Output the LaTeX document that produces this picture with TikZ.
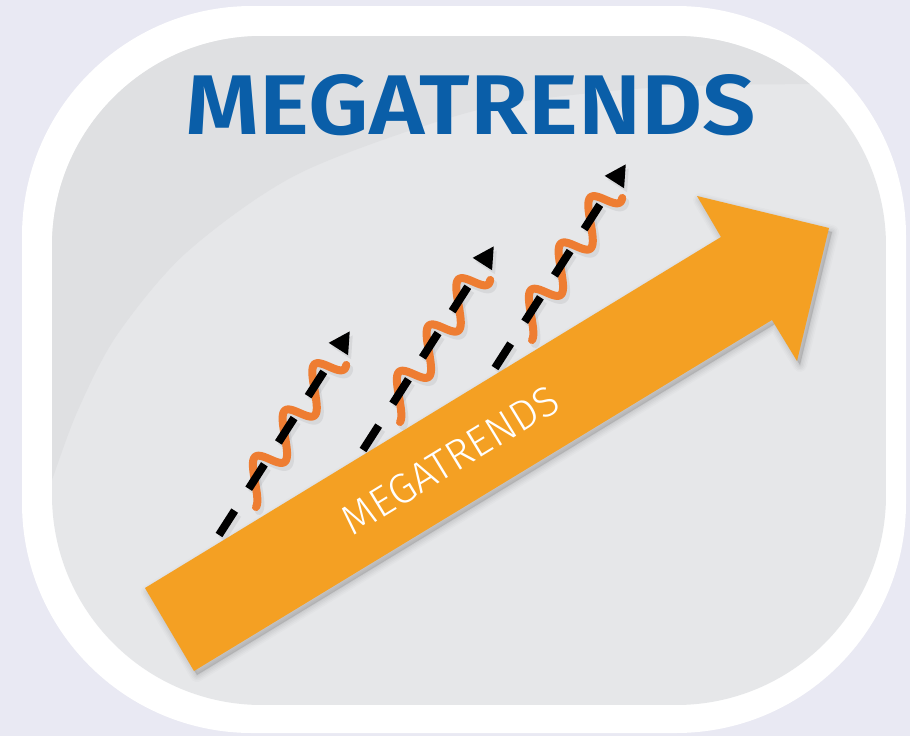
\documentclass[tikz,border=0pt]{standalone}
\usepackage{fontspec}
\setmainfont{Fira Sans}
\newfontfamily\lightfont{Fira Sans Light}
\newfontfamily\titlefont{Fira Sans SemiBold}
\usetikzlibrary{calc}
\definecolor{bgc}{HTML}{E9E9F3}
\definecolor{panelc}{HTML}{E6E7E9}
\definecolor{panedark}{HTML}{DFE0E2}
\definecolor{titlec}{HTML}{0A5EA8}
\definecolor{arrowc}{HTML}{F4A023}
\definecolor{wavec}{HTML}{EE7D32}
\definecolor{shadowc}{HTML}{8A8B90}
\tikzset{
  dashline/.style={line width=8pt, dash pattern=on 29pt off 26pt},
  wavestroke/.style={line width=8pt, line cap=round, line join=round},
}
\def\bigarrowpath{(145,588) -- (721,237) -- (697,196) -- (829,228) -- (797,361) -- (772,320) -- (194,671) -- cycle}
% #1 name prefix, #2 start position, #3 dash colour, #4 wave colour
\newcommand\trendshape[4]{%
 \begin{scope}[shift={#2}, rotate=57.3]
   \coordinate (#1s) at (0,0);
   \coordinate (#1e) at (200,0);
   \draw[wavestroke, draw=#4] plot[domain=50:218, samples=130, smooth]
     ({\x-6.5*cos(6.545*(\x-50))}, {14*cos(6.545*(\x-50)) + 2});
   \draw[dashline, draw=#3] (#1s) -- (#1e);
   \fill[#3] (221,-11.5) -- (242,0) -- (221,11.5) -- cycle;
 \end{scope}}
\begin{document}
\begin{tikzpicture}[x=1pt,y=-1pt]
\fill[bgc] (0,0) rectangle (910,736);
\useasboundingbox (0,0) rectangle (910,736);
% white frame
\fill[white, rounded corners=230pt] (22,6) rectangle (906,733);
% grey panel
\begin{scope}
  \clip[rounded corners=210pt] (52,36) rectangle (886,705);
  \fill[panelc] (52,36) rectangle (886,705);
  \fill[panedark] (0,0) -- (0,550) -- plot[smooth] coordinates {(30,545) (52,480) (78,410) (117,335) (187,252) (300,173) (470,112) (600,92) (720,85) (900,84)} -- (910,0) -- cycle;
\end{scope}
% title
\node[text=titlec, inner sep=0pt] (title) at (471,105) {\resizebox{570pt}{60pt}{\titlefont MEGATRENDS}};
% trend lines: shadows then lines
\begin{scope}[opacity=0.16]
  \trendshape{sa}{(222,539)}{shadowc}{shadowc}
  \trendshape{sb}{(366,454)}{shadowc}{shadowc}
  \trendshape{sc}{(498,372)}{shadowc}{shadowc}
\end{scope}
\trendshape{a}{(219,535)}{black}{wavec}
\trendshape{b}{(363,450)}{black}{wavec}
\trendshape{c}{(495,368)}{black}{wavec}
% big arrow shadow
\foreach \w/\o in {14/0.016, 11/0.018, 8/0.022, 5/0.026, 2/0.03} {
  \filldraw[black, opacity=\o, line width=\w pt, line join=round, shift={(3,4)}] \bigarrowpath;
}
\fill[arrowc] \bigarrowpath;
\node[rotate=31.36, text=white, inner sep=0pt] (label) at (450,460) {\resizebox{246pt}{!}{\lightfont MEGATRENDS}};
\end{tikzpicture}
\end{document}
